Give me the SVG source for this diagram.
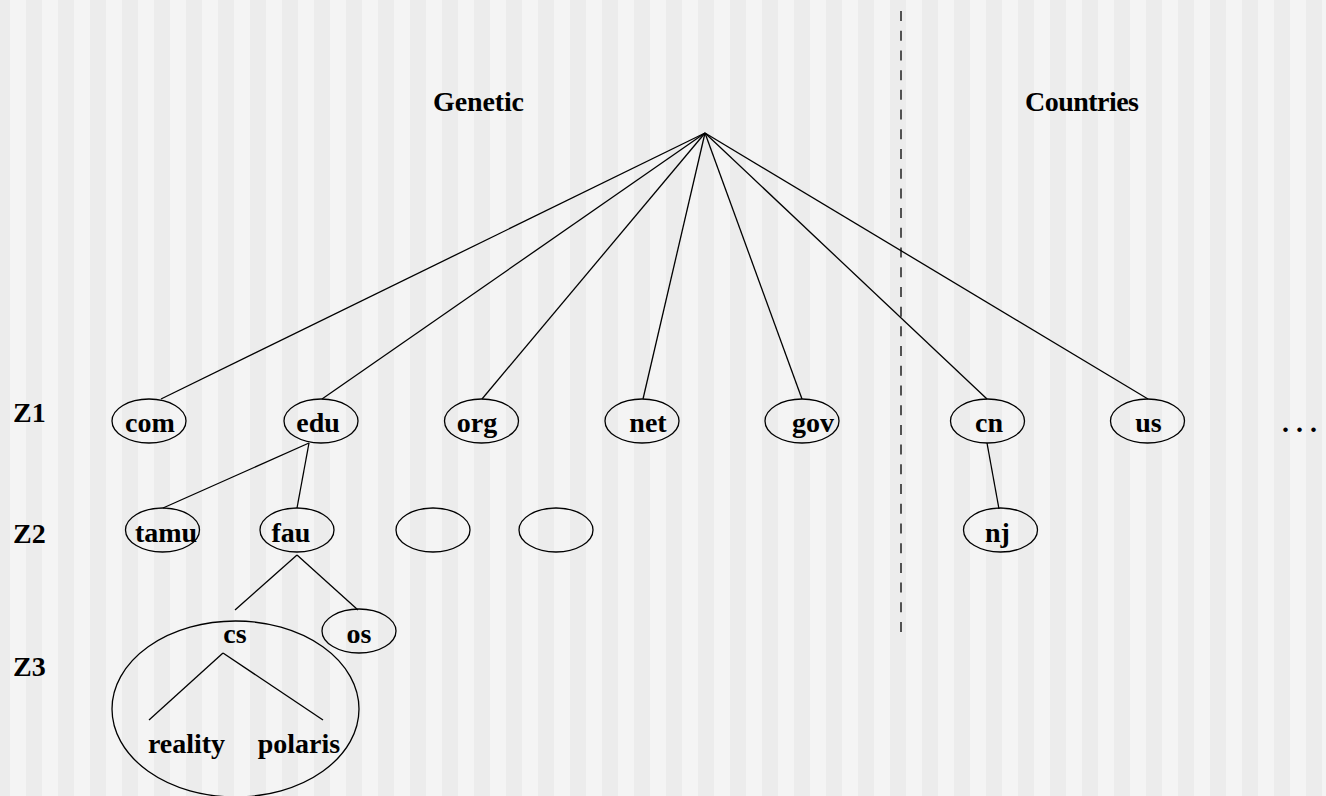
<svg xmlns="http://www.w3.org/2000/svg" width="1326" height="796" viewBox="0 0 1326 796">
<defs>
<pattern id="stripes" patternUnits="userSpaceOnUse" x="10" y="0" width="32" height="796">
<rect x="0" y="0" width="16" height="796" fill="#f4f4f4"/>
<rect x="16" y="0" width="16" height="796" fill="#ececec"/>
</pattern>
<style>
.n{fill:none;stroke:#000;stroke-width:1.3}
.t{font-family:"Liberation Serif","Times New Roman",serif;font-weight:bold;font-size:28px;fill:#000}
.m{text-anchor:middle}
.c{stroke:#000;stroke-width:1.3;fill:none}
</style>
</defs>
<rect x="0" y="0" width="1326" height="796" fill="url(#stripes)"/>

<g id="headers">
<text class="t" x="433" y="111" textLength="91">Genetic</text>
<text class="t" x="1025" y="111" textLength="114">Countries</text>
</g>
<g id="zone-labels">
<text class="t" x="13" y="422">Z1</text>
<text class="t" x="13" y="543">Z2</text>
<text class="t" x="13" y="676">Z3</text>
</g>

<line id="divider" x1="901" y1="11" x2="901" y2="632" stroke="#000" stroke-width="1.3" stroke-dasharray="10 9.71"/>

<g id="connectors">
<line class="c" x1="705" y1="133" x2="161" y2="399"/>
<line class="c" x1="705" y1="133" x2="322" y2="399"/>
<line class="c" x1="705" y1="133" x2="482" y2="399"/>
<line class="c" x1="705" y1="133" x2="643" y2="399"/>
<line class="c" x1="705" y1="133" x2="802" y2="399"/>
<line class="c" x1="705" y1="133" x2="987" y2="399"/>
<line class="c" x1="705" y1="133" x2="1148" y2="399"/>
<line class="c" x1="309" y1="443" x2="163" y2="508"/>
<line class="c" x1="309" y1="443" x2="297" y2="508"/>
<line class="c" x1="987" y1="443" x2="999" y2="509"/>
<line class="c" x1="297" y1="555" x2="235" y2="610"/>
<line class="c" x1="297" y1="555" x2="358" y2="610"/>
<line class="c" x1="223" y1="653" x2="149" y2="720"/>
<line class="c" x1="223" y1="653" x2="323" y2="720"/>
</g>

<g id="com"><ellipse class="n" cx="149" cy="421" rx="37" ry="22"/><text class="t m" x="150" y="432">com</text></g>
<g id="edu"><ellipse class="n" cx="321" cy="421" rx="37" ry="22"/><text class="t m" x="318" y="432">edu</text></g>
<g id="org"><ellipse class="n" cx="481.5" cy="421" rx="37" ry="22"/><text class="t m" x="477" y="432">org</text></g>
<g id="net"><ellipse class="n" cx="642" cy="421" rx="37" ry="22"/><text class="t m" x="648" y="432">net</text></g>
<g id="gov"><ellipse class="n" cx="802" cy="421" rx="37" ry="22"/><text class="t m" x="813" y="432">gov</text></g>
<g id="cn"><ellipse class="n" cx="987.5" cy="421" rx="37" ry="22"/><text class="t m" x="989" y="432">cn</text></g>
<g id="us"><ellipse class="n" cx="1147.5" cy="421" rx="37" ry="22"/><text class="t m" x="1148.5" y="432">us</text></g>
<g id="more"><text class="t" x="1282" y="432">. . .</text></g>

<g id="tamu"><ellipse class="n" cx="162.5" cy="530" rx="37" ry="22"/><text class="t m" x="166" y="542">tamu</text></g>
<g id="fau"><ellipse class="n" cx="297" cy="530" rx="37" ry="22"/><text class="t m" x="291" y="542">fau</text></g>
<g id="blank1"><ellipse class="n" cx="433" cy="530" rx="37" ry="22"/></g>
<g id="blank2"><ellipse class="n" cx="556" cy="530" rx="37" ry="22"/></g>
<g id="nj"><ellipse class="n" cx="1000.5" cy="530" rx="37" ry="22"/><text class="t m" x="997.5" y="542">nj</text></g>

<g id="os"><ellipse class="n" cx="359" cy="631" rx="37" ry="22"/><text class="t m" x="359" y="643">os</text></g>
<g id="cs">
<ellipse class="n" cx="235.5" cy="709" rx="123.5" ry="88"/>
<text class="t m" x="235" y="643">cs</text>
<text class="t m" x="186.5" y="753">reality</text>
<text class="t m" x="299" y="753">polaris</text>
</g>
</svg>
